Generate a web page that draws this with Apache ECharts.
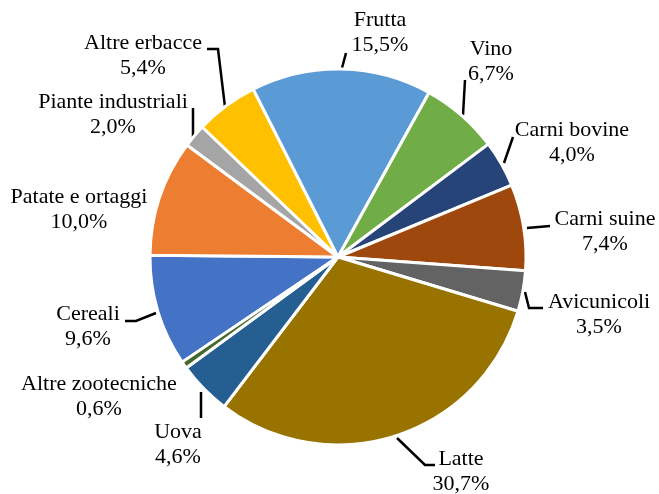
<!DOCTYPE html>
<html>
<head>
  <meta charset="utf-8">
  <title>Pie</title>
  <style>
    html, body { margin: 0; padding: 0; background: #fff; }
    #chart { width: 659px; height: 494px; }
  </style>
</head>
<body>
  <div id="chart"></div>
  <script src="https://cdn.jsdelivr.net/npm/echarts@6/dist/echarts.min.js"></script>
  <script type="text/javascript">
    // categorie e quote (%)
    var categories = ['Cereali', 'Patate e ortaggi', 'Piante industriali', 'Altre erbacce', 'Frutta', 'Vino',
      'Carni bovine', 'Carni suine', 'Avicunicoli', 'Latte', 'Uova', 'Altre zootecniche'];
    var shares = [9.6, 10.0, 2.0, 5.4, 15.5, 6.7, 4.0, 7.4, 3.5, 30.7, 4.6, 0.6];
    var colors = ['#4472C4', '#ED7D31', '#A5A5A5', '#FFC000', '#5B9BD5', '#70AD47',
      '#264478', '#9E480E', '#636363', '#997300', '#255E91', '#43682B'];
    // centro delle etichette
    var labelPos = [[88, 327], [79, 210], [113, 115], [143, 56], [380, 33], [491, 62],
      [572, 143], [605, 232], [599, 315], [461, 472], [178, 445], [99, 397]];
    // linee guida
    var guides = [
      [[156, 313], [136, 321], [125, 321]],
      null,
      [[193, 137], [193, 108]],
      [[225, 107], [218, 49], [207, 49]],
      [[342, 68], [346, 53]],
      [[463, 115], [465, 80]],
      [[504, 163], [513, 137]],
      [[527, 228], [550, 226]],
      [[525, 292], [529, 308], [543, 308]],
      [[397, 438], [425, 465], [435, 465]],
      [[201, 392], [201, 418]],
      null
    ];

    var data = categories.map(function (c, i) {
      return {
        name: c,
        value: shares[i],
        itemStyle: { color: colors[i] },
        labelLine: { show: guides[i] !== null }
      };
    });

    var chart = echarts.init(document.getElementById('chart'));
    chart.setOption({
      animation: false,
      series: [{
        type: 'pie',
        center: [338, 257],
        radius: [0, 188],
        startAngle: 214,
        clockwise: true,
        data: data,
        itemStyle: { borderColor: '#fff', borderWidth: 3 },
        label: {
          show: true,
          position: 'outside',
          fontFamily: 'Liberation Serif',
          fontSize: 22,
          lineHeight: 25,
          color: '#000',
          align: 'center',
          overflow: 'none',
          formatter: function (p) {
            return p.name + '\n' + p.value.toFixed(1).replace('.', ',') + '%';
          }
        },
        labelLine: {
          show: true,
          length: 12,
          length2: 10,
          smooth: false,
          lineStyle: { color: '#000', width: 2.5 }
        },
        labelLayout: function (p) {
          var pos = labelPos[p.dataIndex];
          var res = { x: pos[0], y: pos[1], align: 'center', verticalAlign: 'middle' };
          if (guides[p.dataIndex]) res.labelLinePoints = guides[p.dataIndex];
          return res;
        }
      }]
    });
  </script>
</body>
</html>
